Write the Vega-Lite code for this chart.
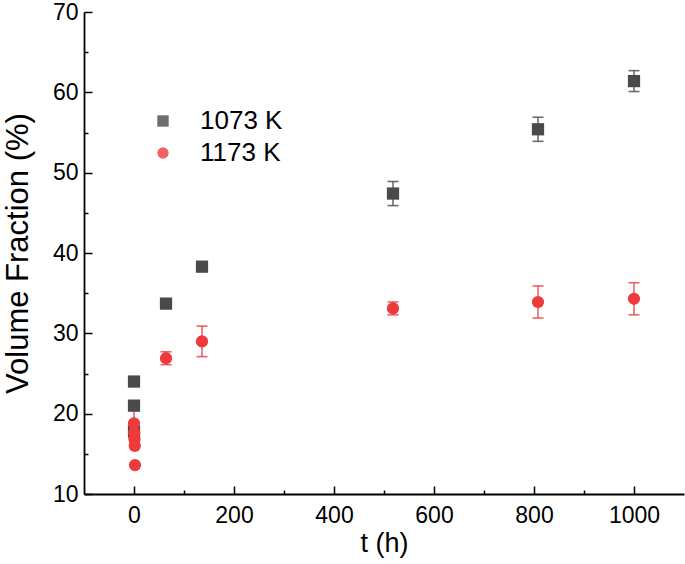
{
  "$schema": "https://vega.github.io/schema/vega-lite/v6.json",
  "autosize": "none",
  "width": 600,
  "height": 482,
  "padding": {"left": 84, "top": 12, "right": 1, "bottom": 70},
  "background": "white",
  "config": {
    "view": {"stroke": null},
    "font": "Liberation Sans",
    "axis": {"grid": false, "domainColor": "black", "domainWidth": 1.8, "tickColor": "black", "tickWidth": 1.5, "labelFont": "Liberation Sans", "labelColor": "black", "labelFontSize": 23, "titleFont": "Liberation Sans", "titleFontSize": 31, "titleFontWeight": "normal", "titleColor": "black"}
  },
  "data": {"values": [
    {"t": 0, "y": 24.0, "lo": null, "hi": null, "series": "1073 K"},
    {"t": 0, "y": 21.0, "lo": 20.4, "hi": 21.6, "series": "1073 K"},
    {"t": 0, "y": 17.8, "lo": 17.3, "hi": 18.3, "series": "1073 K"},
    {"t": 64, "y": 33.7, "lo": null, "hi": null, "series": "1073 K"},
    {"t": 136, "y": 38.3, "lo": null, "hi": null, "series": "1073 K"},
    {"t": 518, "y": 47.4, "lo": 45.9, "hi": 48.9, "series": "1073 K"},
    {"t": 808, "y": 55.4, "lo": 53.9, "hi": 56.9, "series": "1073 K"},
    {"t": 1000, "y": 61.4, "lo": 60.1, "hi": 62.7, "series": "1073 K"},
    {"t": 0, "y": 18.8, "lo": 17.0, "hi": 20.6, "series": "1173 K"},
    {"t": 0.5, "y": 17.6, "lo": null, "hi": null, "series": "1173 K"},
    {"t": 1, "y": 16.8, "lo": null, "hi": null, "series": "1173 K"},
    {"t": 1.5, "y": 16.0, "lo": null, "hi": null, "series": "1173 K"},
    {"t": 2, "y": 13.6, "lo": null, "hi": null, "series": "1173 K"},
    {"t": 64, "y": 26.9, "lo": 26.1, "hi": 27.7, "series": "1173 K"},
    {"t": 136, "y": 29.0, "lo": 27.1, "hi": 30.9, "series": "1173 K"},
    {"t": 518, "y": 33.1, "lo": 32.3, "hi": 33.9, "series": "1173 K"},
    {"t": 808, "y": 33.9, "lo": 31.9, "hi": 35.9, "series": "1173 K"},
    {"t": 1000, "y": 34.3, "lo": 32.3, "hi": 36.3, "series": "1173 K"}
  ]},
  "encoding": {
    "x": {"field": "t", "type": "quantitative", "scale": {"domain": [-100, 1100], "nice": false, "zero": false},
      "axis": {"title": "t (h)", "titleFontSize": 27, "values": [0, 100, 200, 300, 400, 500, 600, 700, 800, 900, 1000], "format": "d",
        "labelExpr": "datum.value % 200 === 0 ? datum.label : ''",
        "tickSize": -8,
        "tickDash": {"condition": {"test": "datum.value % 200 !== 0", "value": [4, 20]}, "value": [20, 0]},
        "labelPadding": 18, "titlePadding": 3}},
    "y": {"field": "y", "type": "quantitative", "scale": {"domain": [10, 70], "nice": false, "zero": false},
      "axis": {"title": "Volume Fraction (%)", "values": [10, 15, 20, 25, 30, 35, 40, 45, 50, 55, 60, 65, 70],
        "labelExpr": "datum.value % 10 === 0 ? datum.label : ''",
        "tickSize": -8,
        "tickDash": {"condition": {"test": "datum.value % 10 !== 0", "value": [4, 20]}, "value": [20, 0]},
        "labelPadding": 14, "titlePadding": 18}},
    "color": {"field": "series", "type": "nominal", "scale": {"domain": ["1073 K", "1173 K"], "range": ["#4a4a4a", "#ef3a3c"]},
      "legend": {"title": null, "orient": "none", "legendX": 66, "legendY": 96, "labelFontSize": 26, "labelColor": "black", "labelFont": "Liberation Sans", "symbolSize": 130, "rowPadding": 6, "labelOffset": 24, "symbolStrokeWidth": 0}}
  },
  "layer": [
    {"transform": [{"filter": "datum.lo != null"}], "mark": {"type": "rule", "strokeWidth": 1.6, "opacity": 0.8},
      "encoding": {"y": {"field": "lo", "type": "quantitative"}, "y2": {"field": "hi"}}},
    {"transform": [{"filter": "datum.lo != null"}], "mark": {"type": "tick", "orient": "horizontal", "size": 11, "thickness": 1.6, "opacity": 0.8},
      "encoding": {"y": {"field": "lo", "type": "quantitative"}}},
    {"transform": [{"filter": "datum.lo != null"}], "mark": {"type": "tick", "orient": "horizontal", "size": 11, "thickness": 1.6, "opacity": 0.8},
      "encoding": {"y": {"field": "hi", "type": "quantitative"}}},
    {"mark": {"type": "point", "filled": true, "opacity": 1, "size": 150},
      "encoding": {"shape": {"field": "series", "type": "nominal", "scale": {"domain": ["1073 K", "1173 K"], "range": ["square", "circle"]}}}}
  ]
}
